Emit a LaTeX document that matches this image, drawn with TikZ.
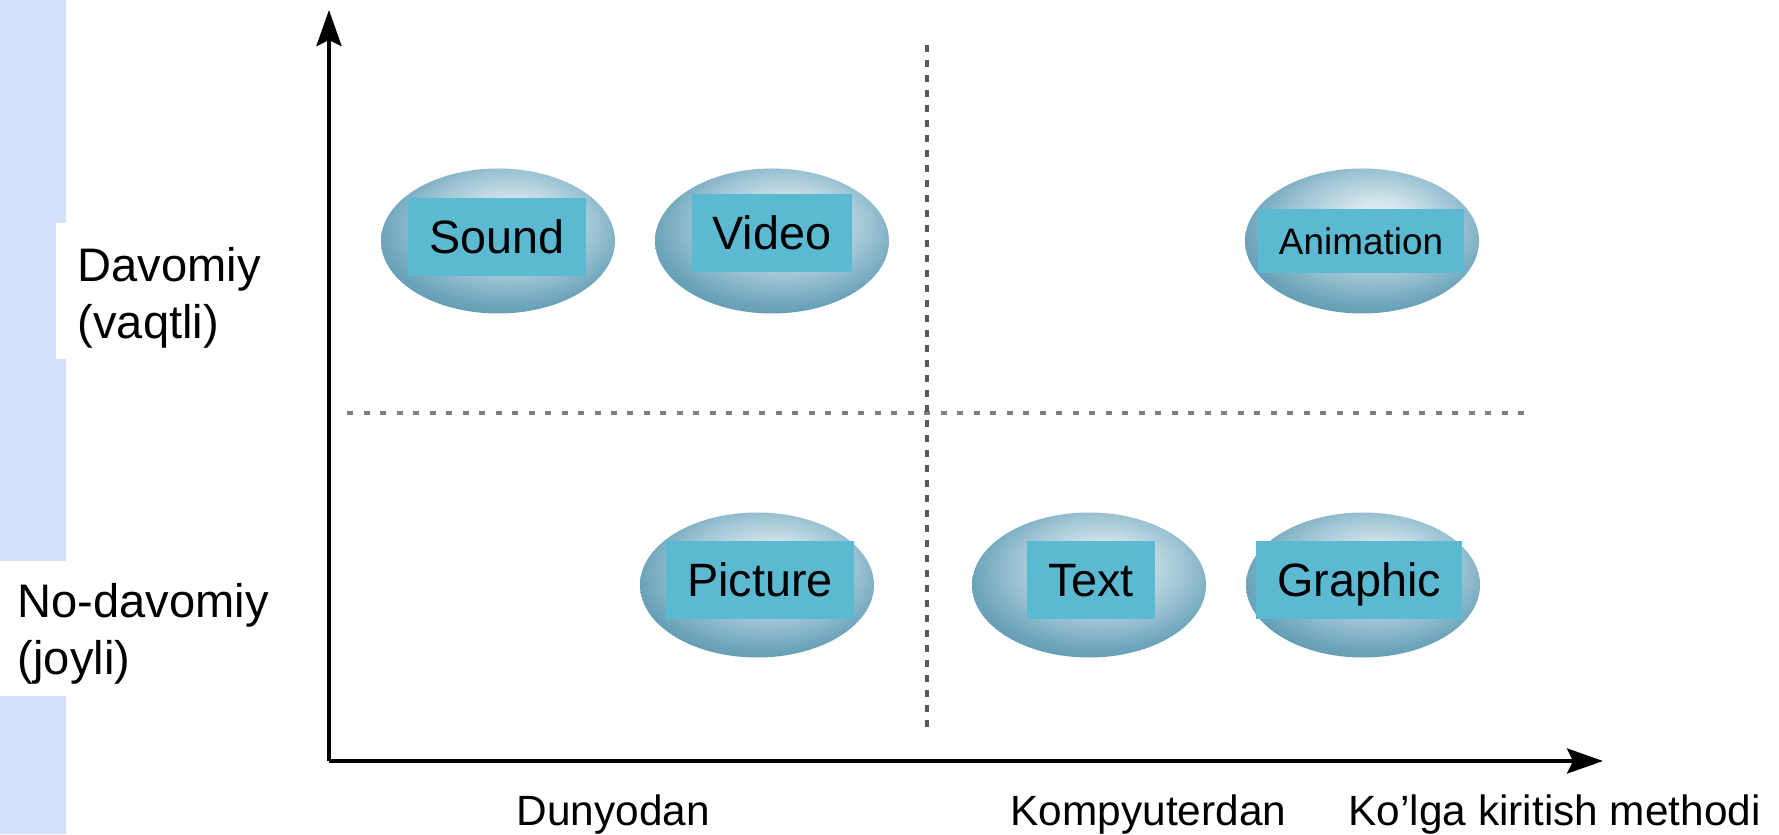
\documentclass[tikz,border=0pt]{standalone}
\usepackage{fontspec}
\setmainfont{Liberation Sans}
\usetikzlibrary{shapes.geometric,arrows.meta}
\definecolor{stripblue}{RGB}{213,224,250}
\definecolor{tagcyan}{RGB}{91,185,209}
\definecolor{dotgray}{RGB}{128,128,128}
\pgfdeclareradialshading{bubble}{\pgfpoint{4bp}{9bp}}{rgb(0bp)=(0.91,0.95,0.96); rgb(7bp)=(0.82,0.89,0.92); rgb(18bp)=(0.62,0.77,0.83); rgb(27bp)=(0.42,0.64,0.73); rgb(33bp)=(0.34,0.58,0.68); rgb(50bp)=(0.34,0.58,0.68)}

\begin{document}
\begin{tikzpicture}[
  sphere/.style={ellipse, minimum width=2.34cm, minimum height=1.45cm, inner sep=0pt, shading=bubble},
  tag/.style={fill=tagcyan, inner xsep=0.21cm, inner ysep=0pt, minimum height=0.78cm, text height=0.335cm, text depth=0pt, font=\fontsize{13.3}{16}\selectfont},
  axisline/.style={line width=1.2pt, -{Stealth[length=0.36cm, width=0.25cm, inset=0.06cm]}},
  divider/.style={dotgray, line width=1.4pt, dash pattern=on 0.06cm off 0.105cm},
  splitter/.style={black!65, line width=1pt, dash pattern=on 0.07cm off 0.08cm},
  side/.style={align=left, anchor=north west, inner sep=0pt, font=\fontsize{13.4}{16.2}\selectfont},
  foot/.style={anchor=base west, inner sep=0pt, font=\fontsize{12.05}{14}\selectfont}]
  \useasboundingbox (0,0) rectangle (17.79,8.34);
  \fill[stripblue] (0,0) rectangle (0.66,8.34);
  \fill[white] (0.56,4.75) rectangle (0.70,6.11);
  \fill[white] (0,1.38) rectangle (0.70,2.73);

  \coordinate (O) at (3.29,0.73);
  \coordinate (ytip) at (3.29,8.24);
  \coordinate (xtip) at (16.03,0.73);
  \coordinate (hl) at (3.47,4.21);
  \coordinate (hr) at (15.26,4.21);
  \coordinate (vt) at (9.27,7.89);
  \coordinate (vb) at (9.27,1.02);
  \draw[divider] (hl) -- (hr);
  \draw[splitter] (vt) -- (vb);
  \draw[axisline] (O) -- (ytip);
  \draw[axisline] (O) -- (xtip);

  \node[sphere] (soundb) at (4.98,5.93) {};
  \node[sphere] (videob) at (7.72,5.93) {};
  \node[sphere] (animationb) at (13.62,5.93) {};
  \node[sphere] (pictureb) at (7.57,2.49) {};
  \node[sphere] (textb) at (10.89,2.49) {};
  \node[sphere] (graphicb) at (13.63,2.49) {};

  \node[tag] (sound) at (4.97,5.97) {Sound};
  \node[tag] (video) at (7.72,6.01) {Video};
  \node[tag, minimum height=0.64cm, text height=0.264cm, font=\fontsize{10.5}{12}\selectfont] (animation) at (13.61,5.93) {Animation};
  \node[tag] (picture) at (7.60,2.54) {Picture};
  \node[tag] (text) at (10.91,2.54) {Text};
  \node[tag] (graphic) at (13.59,2.54) {Graphic};

  \node[side] (cont) at (0.77,5.87) {Davomiy\\(vaqtli)};
  \node[side] (discr) at (0.17,2.51) {No-davomiy\\(joyli)};
  \node[foot] (world) at (5.16,0.09) {Dunyodan};
  \node[foot] (comp) at (10.10,0.09) {Kompyuterdan};
  \node[foot] (method) at (13.48,0.09) {Ko’lga kiritish methodi};
\end{tikzpicture}
\end{document}
